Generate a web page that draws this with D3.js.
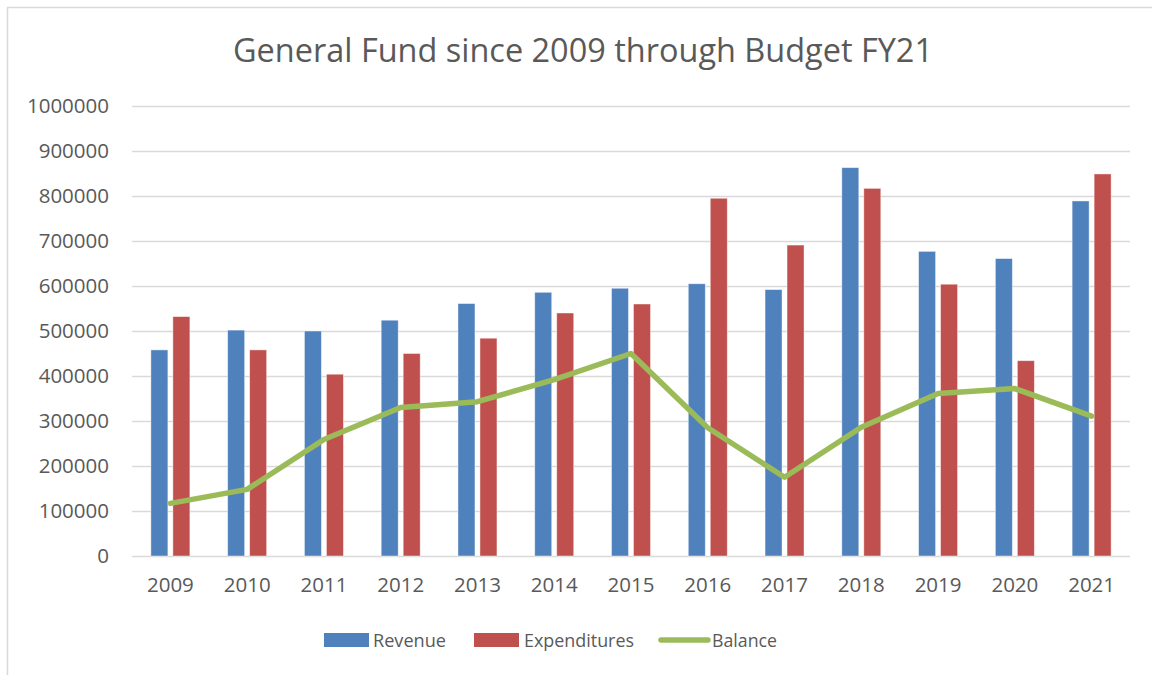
<!DOCTYPE html>
<html>
<head>
<meta charset="utf-8">
<script src="https://cdn.jsdelivr.net/npm/d3@7"></script>
<style>
  html, body { margin: 0; padding: 0; background: #fff; }
  svg { display: block; font-family: "Open Sans", "Liberation Sans", sans-serif; }
</style>
</head>
<body>
<svg id="chart" width="1152" height="675"></svg>
<script>
// Fiscal years shown on the category axis
const years = ["2009", "2010", "2011", "2012", "2013", "2014", "2015",
               "2016", "2017", "2018", "2019", "2020", "2021"];

// General fund figures per fiscal year
const revenue = [458000, 502000, 500000, 524000, 561000, 586000, 595000,
                 605000, 592000, 863000, 677000, 661000, 789000];
const expenditures = [532000, 458000, 404000, 450000, 484000, 540000, 560000,
                      795000, 691000, 817000, 604000, 434000, 849000];
const balance = [117000, 148000, 259000, 330000, 343000, 392000, 450000,
                 285000, 175000, 286000, 361000, 372000, 311000];

// Value axis ticks
const yTicks = [0, 100000, 200000, 300000, 400000, 500000,
                600000, 700000, 800000, 900000, 1000000];

const seriesNames = ["Revenue", "Expenditures", "Balance"];
const colors = { Revenue: "#4F81BD", Expenditures: "#C0504D", Balance: "#9BBB59" };

const svg = d3.select("#chart");
const textColor = "#595959";
const gridColor = "#D9D9D9";

// Outer chart frame
svg.append("rect")
  .attr("x", 7.5).attr("y", 7.5)
  .attr("width", 1170).attr("height", 700)
  .attr("fill", "#fff")
  .attr("stroke", "#D9D9D9")
  .attr("stroke-width", 1.5);

const plot = { left: 132, right: 1130, top: 106, bottom: 556 };

const x = d3.scaleBand()
  .domain(years)
  .range([plot.left, plot.right])
  .paddingInner(0).paddingOuter(0);

const y = d3.scaleLinear()
  .domain([0, 1000000])
  .range([plot.bottom, plot.top]);

// Two bars per year, side by side around the category centre
const groupWidth = 39;
const x1 = d3.scaleBand()
  .domain(["Revenue", "Expenditures"])
  .range([-groupWidth / 2, groupWidth / 2])
  .paddingInner(0.227).paddingOuter(0);

// Horizontal gridlines
svg.append("g")
  .selectAll("line")
  .data(yTicks)
  .join("line")
  .attr("x1", plot.left).attr("x2", plot.right)
  .attr("y1", d => Math.round(y(d)) + 0.5)
  .attr("y2", d => Math.round(y(d)) + 0.5)
  .attr("stroke", gridColor)
  .attr("stroke-width", 1.6);

// Value axis labels
const yAxis = d3.axisLeft(y).tickValues(yTicks).tickSize(0).tickPadding(0)
  .tickFormat(d3.format("d"));
const yAxisG = svg.append("g")
  .attr("transform", `translate(${plot.left - 23},0)`)
  .call(yAxis);
yAxisG.select(".domain").remove();
yAxisG.selectAll("text")
  .attr("fill", textColor)
  .attr("font-size", 20.5)
  .attr("font-family", "'Open Sans', sans-serif");

// Category axis labels
const xAxis = d3.axisBottom(x).tickSize(0).tickPadding(0);
const xAxisG = svg.append("g")
  .attr("transform", `translate(0,${plot.bottom + 21})`)
  .call(xAxis);
xAxisG.select(".domain").remove();
xAxisG.selectAll("text")
  .attr("fill", textColor)
  .attr("font-size", 20.5)
  .attr("font-family", "'Open Sans', sans-serif");

// Bars
const barData = years.map((yr, i) => ({
  year: yr,
  values: [
    { key: "Revenue", value: revenue[i] },
    { key: "Expenditures", value: expenditures[i] }
  ]
}));

svg.append("g")
  .selectAll("g")
  .data(barData)
  .join("g")
  .attr("transform", d => `translate(${x(d.year) + x.bandwidth() / 2},0)`)
  .selectAll("rect")
  .data(d => d.values)
  .join("rect")
  .attr("x", d => x1(d.key))
  .attr("width", x1.bandwidth())
  .attr("y", d => y(d.value))
  .attr("height", d => y(0) - y(d.value))
  .attr("fill", d => colors[d.key])
  .attr("stroke", "rgba(255,255,255,0.55)")
  .attr("stroke-width", 0.8);

// Balance line
const line = d3.line()
  .x((d, i) => x(years[i]) + x.bandwidth() / 2)
  .y(d => y(d));

svg.append("path")
  .datum(balance)
  .attr("d", line)
  .attr("fill", "none")
  .attr("stroke", colors.Balance)
  .attr("stroke-width", 5.5)
  .attr("stroke-linejoin", "round")
  .attr("stroke-linecap", "round");

// Title
svg.append("text")
  .attr("x", 583).attr("y", 62)
  .attr("text-anchor", "middle")
  .attr("fill", textColor)
  .attr("font-size", 33.5)
  .attr("font-family", "'Open Sans', sans-serif")
  .attr("textLength", 700)
  .attr("lengthAdjust", "spacingAndGlyphs")
  .text("General Fund since 2009 through Budget FY21");

// Legend
const legendItems = [
  { key: "Revenue", sx: 324, tx: 373, tw: 73, type: "rect" },
  { key: "Expenditures", sx: 474, tx: 524, tw: 110, type: "rect" },
  { key: "Balance", sx: 661, tx: 712, tw: 65, type: "line" }
];
const legend = svg.append("g");
legendItems.forEach(it => {
  if (it.type === "rect") {
    legend.append("rect")
      .attr("x", it.sx).attr("y", 633)
      .attr("width", 45).attr("height", 14)
      .attr("fill", colors[it.key]);
  } else {
    legend.append("line")
      .attr("x1", it.sx).attr("x2", it.sx + 47)
      .attr("y1", 640).attr("y2", 640)
      .attr("stroke", colors[it.key])
      .attr("stroke-width", 5.5)
      .attr("stroke-linecap", "round");
  }
  legend.append("text")
    .attr("x", it.tx).attr("y", 647)
    .attr("fill", textColor)
    .attr("font-size", 18.5)
    .attr("font-family", "'Open Sans', sans-serif")
    .attr("textLength", it.tw)
    .attr("lengthAdjust", "spacingAndGlyphs")
    .text(it.key);
});
</script>
</body>
</html>
